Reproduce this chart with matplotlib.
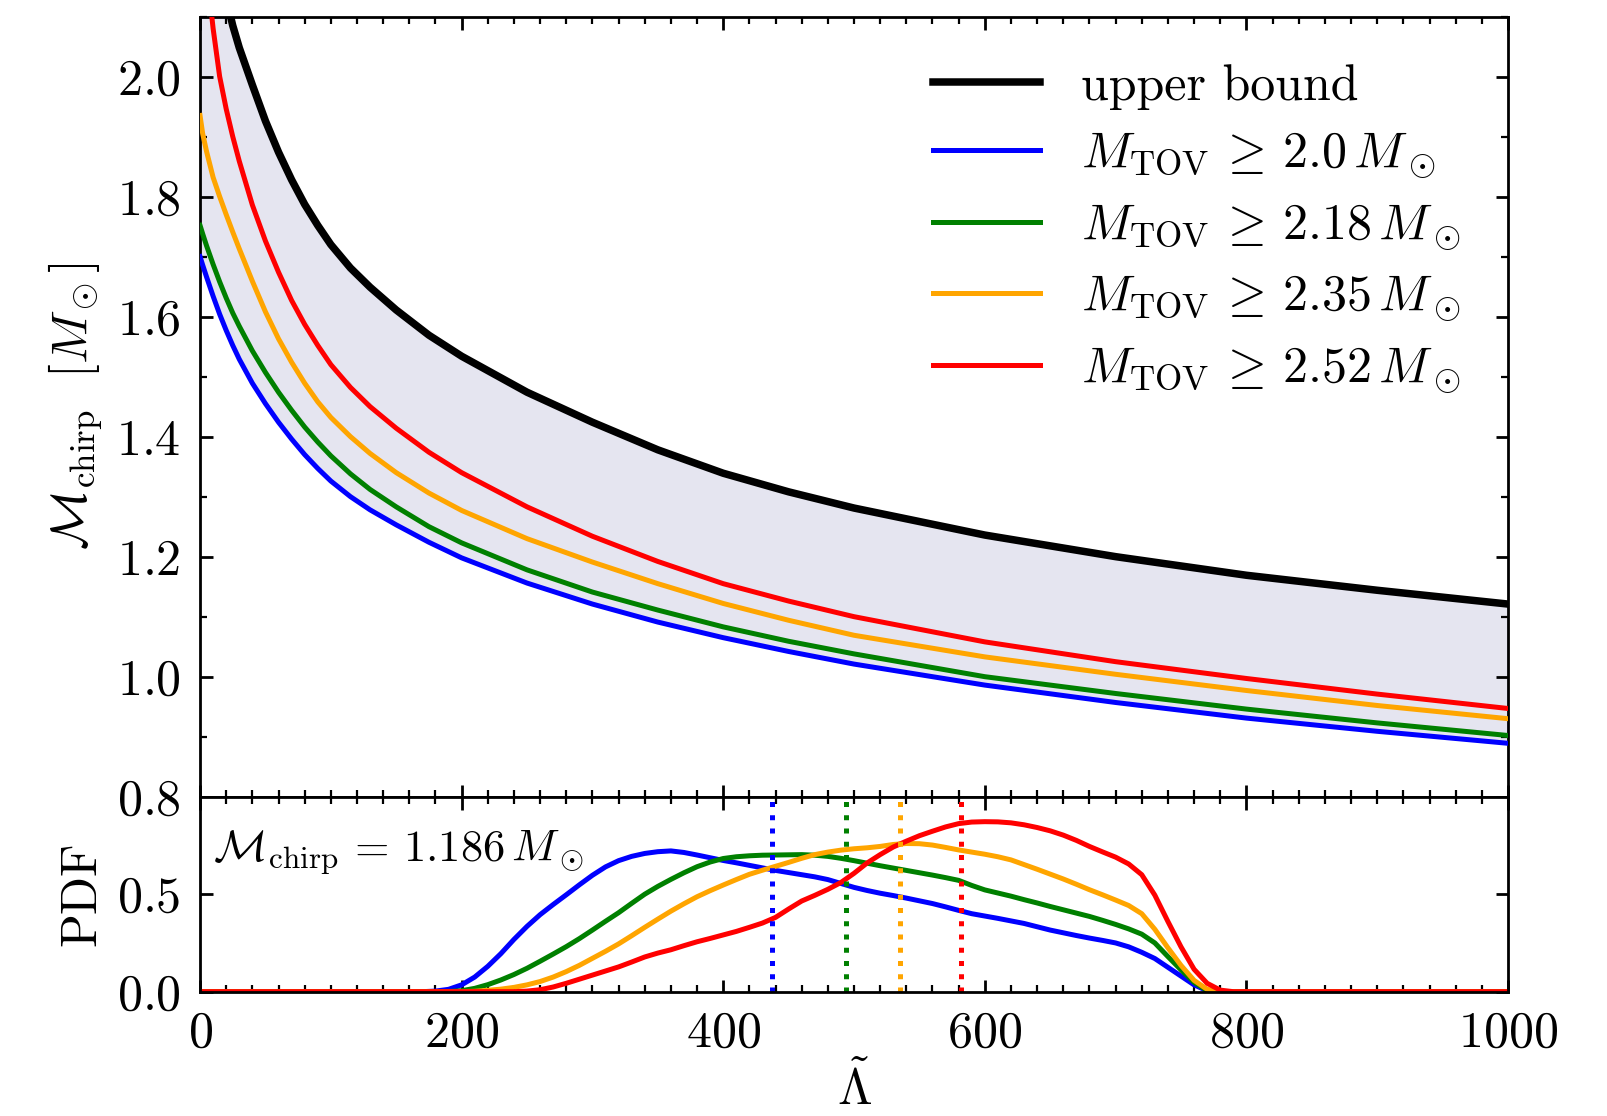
import matplotlib
matplotlib.use('Agg')
import matplotlib.pyplot as plt
import numpy as np
from matplotlib.ticker import MultipleLocator, NullLocator


plt.rcParams.update({
    'font.family': 'serif',
    'font.serif': ['cmr10'],
    'mathtext.fontset': 'cm',
    'axes.formatter.use_mathtext': True,
    'font.size': 18,
    'axes.linewidth': 1.0,
    'xtick.direction': 'in',
    'ytick.direction': 'in',
    'xtick.top': True,
    'ytick.right': True,
    'xtick.major.size': 4.5,
    'ytick.major.size': 4.5,
    'xtick.minor.size': 2.5,
    'ytick.minor.size': 2.5,
    'xtick.major.width': 1.0,
    'ytick.major.width': 1.0,
    'xtick.minor.width': 0.8,
    'ytick.minor.width': 0.8,
    'xtick.major.pad': 7,
    'ytick.major.pad': 7,
})

# chirp mass vs tidal deformability
lam_curve = [0, 2, 5, 10, 15, 20, 25, 30, 40, 50, 60, 70, 80, 90, 100, 115, 130,
             150, 175, 200, 250, 300, 350, 400, 450, 500, 600, 700, 800, 900, 1000]
mc_200 = [1.700, 1.686, 1.666, 1.634, 1.604, 1.577, 1.552, 1.529, 1.489, 1.455,
          1.424, 1.396, 1.370, 1.347, 1.326, 1.300, 1.278, 1.253, 1.224, 1.198,
          1.156, 1.121, 1.091, 1.065, 1.042, 1.021, 0.986, 0.957, 0.931, 0.909,
          0.889]
mc_218 = [1.752, 1.738, 1.718, 1.687, 1.658, 1.631, 1.606, 1.584, 1.543, 1.507,
          1.474, 1.444, 1.416, 1.391, 1.368, 1.338, 1.312, 1.283, 1.250, 1.223,
          1.178, 1.141, 1.111, 1.083, 1.059, 1.038, 1.000, 0.972, 0.946, 0.923,
          0.902]
mc_235 = [1.935, 1.905, 1.875, 1.832, 1.800, 1.770, 1.741, 1.713, 1.659, 1.608,
          1.563, 1.524, 1.489, 1.458, 1.432, 1.400, 1.372, 1.340, 1.306, 1.277,
          1.230, 1.191, 1.155, 1.122, 1.094, 1.069, 1.033, 1.004, 0.977, 0.952,
          0.930]
mc_252 = [2.300, 2.250, 2.180, 2.080, 2.000, 1.946, 1.900, 1.859, 1.786, 1.726,
          1.674, 1.627, 1.587, 1.552, 1.520, 1.482, 1.450, 1.414, 1.374, 1.340,
          1.283, 1.234, 1.192, 1.155, 1.126, 1.100, 1.058, 1.025, 0.997, 0.971,
          0.947]

lam_upper = [10, 15, 20, 25, 30, 40, 50, 60, 70, 80, 90, 100, 115, 130, 150, 175,
             200, 250, 300, 350, 400, 450, 500, 600, 700, 800, 900, 1000]
mc_upper = [2.280, 2.190, 2.130, 2.085, 2.048, 1.986, 1.926, 1.874, 1.828, 1.787,
            1.752, 1.720, 1.681, 1.649, 1.611, 1.569, 1.534, 1.474, 1.424, 1.378,
            1.339, 1.308, 1.281, 1.236, 1.200, 1.169, 1.144, 1.121]

# PDFs of Lambda-tilde for Mchirp = 1.186 (read every 10 between 170 and 790)
lam_pdf = [0] + list(range(170, 800, 10)) + [1000]
pdf_200 = [0,
           0.000, 0.003, 0.012, 0.035, 0.075, 0.130, 0.195, 0.268, 0.335, 0.395,
           0.447, 0.497, 0.548, 0.597, 0.640, 0.672, 0.694, 0.709, 0.718, 0.722,
           0.714, 0.701, 0.687, 0.673, 0.661, 0.648, 0.635, 0.622, 0.611, 0.600,
           0.589, 0.575, 0.555, 0.535, 0.519, 0.505, 0.493, 0.480, 0.466, 0.452,
           0.435, 0.417, 0.400, 0.388, 0.376, 0.363, 0.350, 0.333, 0.316, 0.302,
           0.288, 0.275, 0.263, 0.250, 0.230, 0.202, 0.170, 0.125, 0.080, 0.035,
           0.005, 0.000, 0.000,
           0]
pdf_218 = [0,
           0.000, 0.000, 0.001, 0.005, 0.017, 0.036, 0.060, 0.088, 0.120, 0.156,
           0.193, 0.231, 0.272, 0.316, 0.361, 0.405, 0.453, 0.500, 0.540, 0.576,
           0.610, 0.641, 0.665, 0.683, 0.692, 0.697, 0.700, 0.701, 0.702, 0.703,
           0.700, 0.694, 0.684, 0.672, 0.659, 0.646, 0.634, 0.622, 0.610, 0.598,
           0.585, 0.571, 0.545, 0.522, 0.506, 0.490, 0.472, 0.455, 0.437, 0.420,
           0.403, 0.386, 0.366, 0.345, 0.322, 0.295, 0.250, 0.180, 0.112, 0.048,
           0.006, 0.000, 0.000,
           0]
pdf_235 = [0,
           0.000, 0.000, 0.000, 0.000, 0.002, 0.007, 0.013, 0.022, 0.035, 0.052,
           0.075, 0.103, 0.135, 0.171, 0.207, 0.245, 0.287, 0.330, 0.372, 0.413,
           0.451, 0.487, 0.518, 0.547, 0.575, 0.602, 0.623, 0.643, 0.663, 0.684,
           0.703, 0.716, 0.726, 0.733, 0.738, 0.745, 0.755, 0.760, 0.759, 0.752,
           0.740, 0.727, 0.716, 0.705, 0.692, 0.676, 0.652, 0.628, 0.603, 0.578,
           0.551, 0.523, 0.497, 0.470, 0.442, 0.400, 0.320, 0.225, 0.135, 0.058,
           0.012, 0.000, 0.000,
           0]
pdf_252 = [0,
           0.000, 0.000, 0.000, 0.000, 0.000, 0.000, 0.000, 0.000, 0.003, 0.010,
           0.024, 0.043, 0.064, 0.085, 0.106, 0.127, 0.152, 0.178, 0.198, 0.215,
           0.236, 0.256, 0.273, 0.291, 0.309, 0.330, 0.352, 0.381, 0.424, 0.465,
           0.494, 0.525, 0.560, 0.607, 0.660, 0.703, 0.742, 0.772, 0.800, 0.823,
           0.845, 0.862, 0.870, 0.872, 0.871, 0.866, 0.856, 0.842, 0.825, 0.803,
           0.776, 0.745, 0.717, 0.690, 0.655, 0.600, 0.495, 0.360, 0.230, 0.115,
           0.043, 0.008, 0.000,
           0]

lam_median = [437, 494, 535, 582]

colors = ['blue', 'green', 'orange', 'red']
labels = [r'$M_{\rm TOV}\,\geq\,2.0\,M_\odot$', r'$M_{\rm TOV}\,\geq\,2.18\,M_\odot$',
          r'$M_{\rm TOV}\,\geq\,2.35\,M_\odot$', r'$M_{\rm TOV}\,\geq\,2.52\,M_\odot$']

fig = plt.figure(figsize=(8.04, 5.58), dpi=200)
ax1 = fig.add_axes([0.1244, 0.2861, 0.8134, 0.6991])
ax2 = fig.add_axes([0.1244, 0.1114, 0.8134, 0.1747], sharex=ax1)

ymax = 2.1
upper_on_grid = np.interp(lam_curve, lam_upper, mc_upper)
ax1.fill_between(lam_curve, mc_200, upper_on_grid, color='#e5e5f0', lw=0, zorder=1)

handles = []
h, = ax1.plot(lam_upper, mc_upper, color='black', lw=2.7, zorder=4,
              label='upper bound')
handles.append(h)
for mc, c, lab in zip([mc_200, mc_218, mc_235, mc_252], colors, labels):
    h, = ax1.plot(lam_curve, mc, color=c, lw=1.8, zorder=3, label=lab)
    handles.append(h)

ax1.set_xlim(0, 1000)
ax1.set_ylim(0.8, ymax)
ax1.yaxis.set_major_locator(MultipleLocator(0.2))
ax1.yaxis.set_minor_locator(MultipleLocator(0.1))
ax1.xaxis.set_major_locator(MultipleLocator(200))
ax1.xaxis.set_minor_locator(MultipleLocator(20))
ax1.tick_params(labelbottom=False)
ax1.tick_params(which='both', top=True, right=True)
ax1.set_ylabel(r'$\mathcal{M}_{\rm chirp}\ \ [M_\odot]$')
ax1.legend(handles=handles, loc='upper right', frameon=False,
           handlelength=2.13, handletextpad=0.82, labelspacing=0.43,
           borderaxespad=0.55)

for pdf, c in zip([pdf_200, pdf_218, pdf_235, pdf_252], colors):
    ax2.plot(lam_pdf, pdf, color=c, lw=1.8)
for lm, c in zip(lam_median, colors):
    ax2.axvline(lm, color=c, ls=':', lw=1.8)

ax2.set_ylim(0, 1.0)
ax2.set_yticks([0, 0.5])
ax2.yaxis.set_minor_locator(NullLocator())
ax2.tick_params(which='both', top=True, right=True)
ax2.set_ylabel('PDF')
ax2.set_xlabel(r'$\tilde{\Lambda}$', labelpad=2)
ax2.text(0.01, 0.71, r'$\mathcal{M}_{\rm chirp}\,=\,1.186\,M_\odot$',
         transform=ax2.transAxes, va='center', ha='left', fontsize=16)

fig.align_ylabels([ax1, ax2])
fig.savefig('out.png', dpi=200)
